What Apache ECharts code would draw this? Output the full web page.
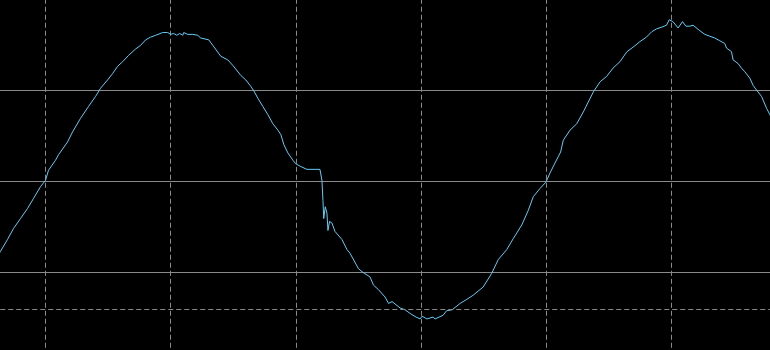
<!DOCTYPE html>
<html>
<head>
<meta charset="utf-8">
<script src="https://cdn.jsdelivr.net/npm/echarts@6/dist/echarts.min.js"></script>
<style>
html,body{margin:0;padding:0;background:#000;}
#chart{width:770px;height:350px;}
</style>
</head>
<body>
<div id="chart"></div>
<script>
// sample times (x) and signal values (y)
const sampleTimes = [
  77, 80, 87, 93, 100, 107, 113, 120, 125, 128, 135, 138, 147, 152, 160, 168, 175, 180, 187, 192,
  197, 202, 208, 215, 220, 225, 230, 235, 242, 247, 250, 253, 256, 259, 262, 263, 267, 272, 277, 280,
  288, 292, 300, 307, 312, 320, 325, 330, 333, 337, 342, 347, 352, 357, 360, 363, 367, 372, 375, 380,
  386, 399, 401, 402, 402.8, 404.3, 406, 407, 408.6, 411, 414, 421, 426, 429, 437.5, 442, 449, 452.5, 457.5, 464,
  467.5, 471, 479, 484, 489, 495, 499, 501, 505.7, 512, 514, 522, 525.5, 531, 539, 545, 552, 562, 570.5, 577,
  585.5, 592, 600.5, 607, 612, 618.7, 624.7, 628.7, 633.7, 639.3, 642, 648.7, 655.4, 662, 672, 678.7, 685.3, 691.6, 698.5, 705.5,
  711.7, 718.4, 725, 730.4, 735, 740.4, 745, 747.7, 751.4, 756.6, 761, 764.3, 768.3, 771.6, 778.3, 783.3, 788.2, 793.2, 798.2, 803.2,
  804.9, 809.9, 811.5, 816.5, 819.9, 823.2, 828.2, 831.5, 834.9, 839.9, 844.9, 848.2, 852
];
const signalValues = [
  -0.83, -0.77, -0.64, -0.52, -0.41, -0.30, -0.19, -0.06, 0.01, 0.12, 0.23, 0.29, 0.43, 0.54, 0.69, 0.82, 0.93, 1.02, 1.11, 1.18,
  1.26, 1.31, 1.38, 1.45, 1.49, 1.55, 1.58, 1.60, 1.63, 1.63, 1.61, 1.62, 1.60, 1.62, 1.60, 1.63, 1.61, 1.61, 1.60, 1.57,
  1.55, 1.49, 1.37, 1.33, 1.27, 1.16, 1.11, 1.04, 0.99, 0.91, 0.82, 0.73, 0.63, 0.56, 0.51, 0.40, 0.31, 0.23, 0.19, 0.16,
  0.13, 0.13, 0.01, -0.21, -0.41, -0.28, -0.35, -0.54, -0.44, -0.46, -0.55, -0.64, -0.75, -0.79, -0.96, -1.00, -1.05, -1.14, -1.19, -1.27,
  -1.34, -1.32, -1.39, -1.41, -1.45, -1.49, -1.51, -1.48, -1.51, -1.49, -1.51, -1.47, -1.42, -1.41, -1.34, -1.30, -1.25, -1.16, -1.01, -0.86,
  -0.75, -0.63, -0.48, -0.32, -0.17, -0.08, -0.01, 0.09, 0.20, 0.32, 0.45, 0.56, 0.63, 0.76, 0.98, 1.09, 1.15, 1.24, 1.31, 1.42,
  1.47, 1.53, 1.58, 1.64, 1.67, 1.69, 1.71, 1.77, 1.75, 1.68, 1.75, 1.70, 1.70, 1.71, 1.65, 1.61, 1.59, 1.57, 1.54, 1.51,
  1.46, 1.42, 1.33, 1.29, 1.24, 1.20, 1.13, 1.05, 1.00, 0.93, 0.80, 0.73, 0.64
];
const xDivision = 125;      // time per vertical division
const xMax = 875;
const yDivision = 1;        // value per horizontal division
const yMin = -2, yMax = 2;
const referenceLevel = -1.40;

const points = sampleTimes.map((t, i) => [t, signalValues[i]]);

const chart = echarts.init(document.getElementById('chart'), null, {renderer: 'canvas'});
chart.setOption({
  backgroundColor: '#000000',
  animation: false,
  grid: { left: -79.7, width: 876.4, top: -1.2, height: 364.8, containLabel: false, outerBoundsMode: 'none' },
  xAxis: {
    type: 'value', min: 0, max: xMax, interval: xDivision,
    axisLine: {show: false}, axisTick: {show: false}, axisLabel: {show: false},
    splitLine: {show: true, lineStyle: {color: '#8a8a8a', width: 1, type: [5, 3]}}
  },
  yAxis: {
    type: 'value', min: yMin, max: yMax, interval: yDivision,
    axisLine: {show: false}, axisTick: {show: false}, axisLabel: {show: false},
    splitLine: {show: true, lineStyle: {color: '#8a8a8a', width: 1, type: 'solid'}}
  },
  series: [{
    type: 'line',
    data: points,
    showSymbol: false,
    symbol: 'none',
    lineStyle: {color: '#62cdf6', width: 1},
    markLine: {
      silent: true, symbol: 'none', label: {show: false},
      lineStyle: {color: '#8a8a8a', width: 1, type: [5, 3]},
      data: [{yAxis: referenceLevel}]
    }
  }]
});
</script>
</body>
</html>
